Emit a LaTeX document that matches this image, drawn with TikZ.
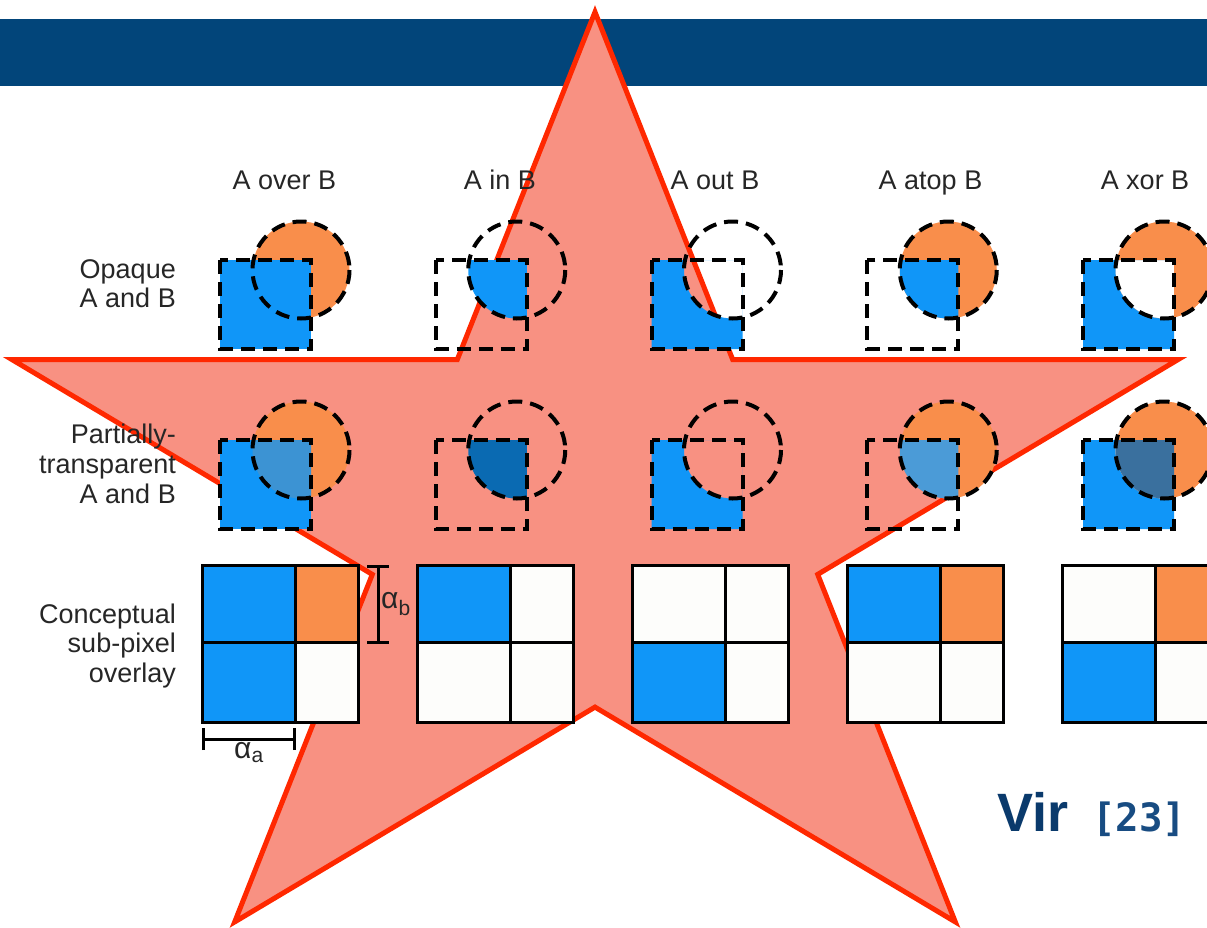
\documentclass[tikz,border=0pt]{standalone}
\usepackage{fontspec}
\setmainfont{Liberation Sans}
\newfontfamily\citemono{DejaVu Sans Mono}

\definecolor{hdr}{HTML}{02457A}
\definecolor{pblue}{HTML}{1096F8}
\definecolor{porange}{HTML}{F98E4B}
\definecolor{starfill}{HTML}{F89182}
\definecolor{starline}{HTML}{FF2800}
\definecolor{mixover}{HTML}{3C93D3}
\definecolor{mixin}{HTML}{0A6AB2}
\definecolor{mixatop}{HTML}{4B9BD7}
\definecolor{mixxor}{HTML}{3A709E}
\definecolor{cellwhite}{HTML}{FDFDFB}
\definecolor{citeA}{HTML}{0A3A6C}
\definecolor{citeB}{HTML}{184C82}

% square A and disc B of one compositing cell, in local coordinates
\newcommand\venSq{(0,0) rectangle (91,89)}
\newcommand\venCi{(81,10) circle [radius=48.5]}

\begin{document}
\begin{tikzpicture}[x=1pt,y=-1pt,
  lbl/.style={font=\fontsize{27}{30}\selectfont, text=black!85, inner sep=0pt},
  outl/.style={draw=black, line width=4pt, dash pattern=on 14pt off 8pt},
  gridline/.style={draw=black, line width=3pt},
  bar/.style={draw=black, line width=3pt},
  greek/.style={font=\fontsize{30}{32}\selectfont, text=black!85, inner sep=0pt}]

\useasboundingbox (0,0) rectangle (1207,927);
\clip (0,0) rectangle (1207,927);

% title bar
\fill[hdr] (0,19) rectangle (1207,86);

% five-pointed star behind the chart
\filldraw[fill=starfill, draw=starline, line width=5pt, line join=miter]
  (595,12) -- (732.7,359.6) -- (1178,359.6) -- (817.7,574.4) -- (955.3,921.9)
  -- (595,707.1) -- (234.7,921.9) -- (372.3,574.4) -- (12,359.6) -- (457.3,359.6)
  -- cycle;

% column headings
\node[lbl, anchor=base] (hover) at (284.5,189) {A over B};
\node[lbl, anchor=base] (hin)   at (500,189)   {A in B};
\node[lbl, anchor=base] (hout)  at (715,189)   {A out B};
\node[lbl, anchor=base] (hatop) at (930.5,189) {A atop B};
\node[lbl, anchor=base] (hxor)  at (1145,189)  {A xor B};

% row headings
\node[lbl, anchor=base east] (op1) at (176,278) {Opaque};
\node[lbl, anchor=base east] (op2) at (176,307) {A and B};
\node[lbl, anchor=base east] (pt1) at (176,443) {Partially-};
\node[lbl, anchor=base east] (pt2) at (176,473) {transparent};
\node[lbl, anchor=base east] (pt3) at (176,503) {A and B};
\node[lbl, anchor=base east] (cs1) at (176,623) {Conceptual};
\node[lbl, anchor=base east] (cs2) at (176,652) {sub-pixel};
\node[lbl, anchor=base east] (cs3) at (176,682) {overlay};

% ---------- opaque row ----------
\begin{scope}[shift={(220,260)}] % over
  \fill[porange] \venCi;
  \fill[pblue] \venSq;
  \draw[outl] \venCi; \draw[outl] \venSq;
\end{scope}
\begin{scope}[shift={(435.75,260)}] % in
  \begin{scope}\clip \venSq; \fill[pblue] \venCi; \end{scope}
  \draw[outl] \venCi; \draw[outl] \venSq;
\end{scope}
\begin{scope}[shift={(651.5,260)}] % out
  \begin{scope}\clip \venSq; \fill[pblue, even odd rule] \venSq \venCi; \end{scope}
  \draw[outl] \venCi; \draw[outl] \venSq;
\end{scope}
\begin{scope}[shift={(867.25,260)}] % atop
  \fill[porange] \venCi;
  \begin{scope}\clip \venSq; \fill[pblue] \venCi; \end{scope}
  \draw[outl] \venCi; \draw[outl] \venSq;
\end{scope}
\begin{scope}[shift={(1083,260)}] % xor
  \begin{scope}\clip \venSq; \fill[pblue, even odd rule] \venSq \venCi; \end{scope}
  \begin{scope}\clip \venCi; \fill[porange, even odd rule] \venSq \venCi; \end{scope}
  \draw[outl] \venCi; \draw[outl] \venSq;
\end{scope}

% ---------- partially transparent row ----------
\begin{scope}[shift={(220,440)}] % over
  \fill[porange] \venCi;
  \fill[pblue] \venSq;
  \begin{scope}\clip \venSq; \fill[mixover] \venCi; \end{scope}
  \draw[outl] \venCi; \draw[outl] \venSq;
\end{scope}
\begin{scope}[shift={(435.75,440)}] % in
  \begin{scope}\clip \venSq; \fill[mixin] \venCi; \end{scope}
  \draw[outl] \venCi; \draw[outl] \venSq;
\end{scope}
\begin{scope}[shift={(651.5,440)}] % out
  \begin{scope}\clip \venSq; \fill[pblue, even odd rule] \venSq \venCi; \end{scope}
  \draw[outl] \venCi; \draw[outl] \venSq;
\end{scope}
\begin{scope}[shift={(867.25,440)}] % atop
  \fill[porange] \venCi;
  \begin{scope}\clip \venSq; \fill[mixatop] \venCi; \end{scope}
  \draw[outl] \venCi; \draw[outl] \venSq;
\end{scope}
\begin{scope}[shift={(1083,440)}] % xor
  \begin{scope}\clip \venSq; \fill[pblue, even odd rule] \venSq \venCi; \end{scope}
  \begin{scope}\clip \venCi; \fill[porange, even odd rule] \venSq \venCi; \end{scope}
  \begin{scope}\clip \venSq; \fill[mixxor] \venCi; \end{scope}
  \draw[outl] \venCi; \draw[outl] \venSq;
\end{scope}

% ---------- sub-pixel grids: TL, TR, BL, BR cells ----------
\foreach \gx/\ctl/\ctr/\cbl/\cbr in {202/pblue/porange/pblue/cellwhite,
    417/pblue/cellwhite/cellwhite/cellwhite,
    632/cellwhite/cellwhite/pblue/cellwhite,
    847/pblue/porange/cellwhite/cellwhite,
    1062/cellwhite/porange/pblue/cellwhite}{
  \begin{scope}[shift={(\gx,565)}]
    \fill[\ctl] (0,0) rectangle (93,77);
    \fill[\ctr] (93,0) rectangle (156,77);
    \fill[\cbl] (0,77) rectangle (93,157);
    \fill[\cbr] (93,77) rectangle (156,157);
    \draw[gridline] (0,0) rectangle (156,157);
    \draw[gridline] (93,0) -- (93,157);
    \draw[gridline] (0,77) -- (156,77);
  \end{scope}
}

% coverage dimension bars
\coordinate (ba1) at (203,739);
\coordinate (ba2) at (294,739);
\draw[bar] (ba1) -- (ba2);
\draw[bar] ([yshift=-11pt]ba1) -- ([yshift=11pt]ba1);
\draw[bar] ([yshift=-11pt]ba2) -- ([yshift=11pt]ba2);
\node[greek, anchor=north] (alphaa) at (249,742) {α\textsubscript{a}};

\coordinate (bb1) at (378,566);
\coordinate (bb2) at (378,642);
\draw[bar] (bb1) -- (bb2);
\draw[bar] ([xshift=-11pt]bb1) -- ([xshift=11pt]bb1);
\draw[bar] ([xshift=-11pt]bb2) -- ([xshift=11pt]bb2);
\node[greek, anchor=west] (alphab) at (381,604) {α\textsubscript{b}};

% citation
\node[inner sep=0pt, anchor=base west, text=citeA,
  font=\fontsize{54}{60}\selectfont\bfseries] (vir) at (997,831) {Vir};
\node[inner sep=0pt, anchor=base west, text=citeB,
  font=\citemono\fontsize{39}{42}\selectfont\bfseries] (ref) at (1092,831) {[23]};
\end{tikzpicture}
\end{document}
